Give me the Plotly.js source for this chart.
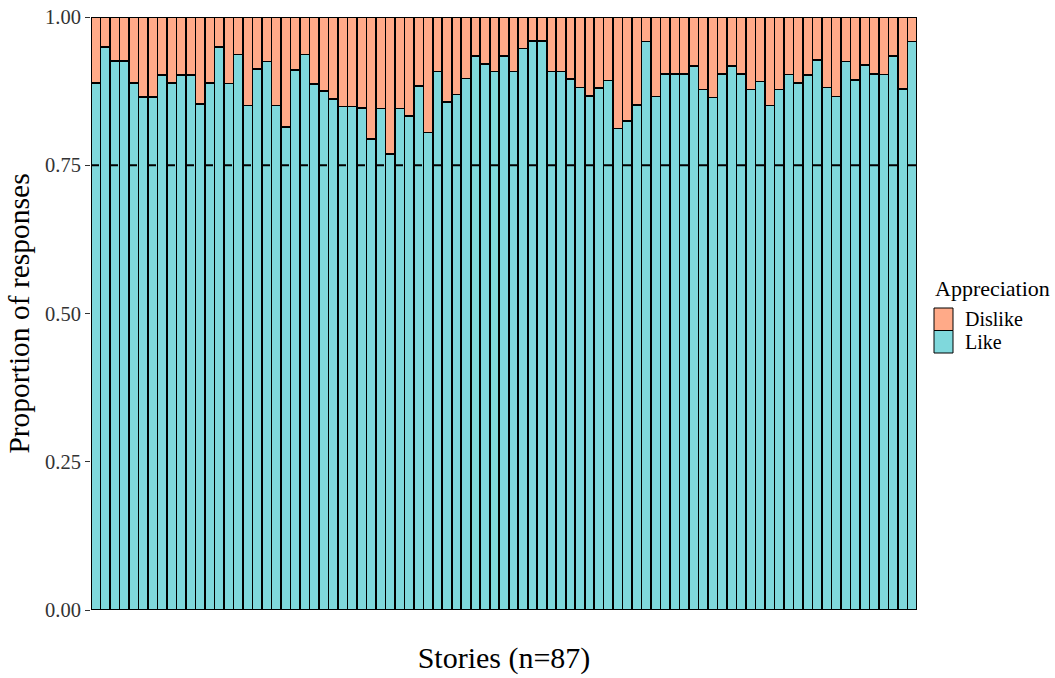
<!DOCTYPE html>
<html>
<head>
<meta charset="utf-8">
<script src="https://cdn.plot.ly/plotly-3.0.1.min.js"></script>
<style>
  html, body { margin: 0; padding: 0; background: #ffffff; }
  #chart { width: 1055px; height: 678px; }
</style>
</head>
<body>
<div id="chart"></div>
<script>
// Share of "Like" responses for each of the 87 stories
const likeShare = [
  0.889, 0.949, 0.926, 0.926, 0.889, 0.865, 0.865, 0.902, 0.889, 0.902,
  0.902, 0.853, 0.889, 0.949, 0.888, 0.937, 0.851, 0.912, 0.925, 0.851,
  0.815, 0.911, 0.937, 0.887, 0.875, 0.862, 0.849, 0.849, 0.847, 0.794,
  0.846, 0.769, 0.846, 0.833, 0.884, 0.805, 0.908, 0.857, 0.869, 0.896,
  0.934, 0.921, 0.908, 0.934, 0.908, 0.947, 0.960, 0.960, 0.908, 0.908,
  0.895, 0.881, 0.867, 0.880, 0.893, 0.812, 0.825, 0.852, 0.959, 0.866,
  0.904, 0.904, 0.904, 0.917, 0.878, 0.864, 0.904, 0.917, 0.904, 0.878,
  0.891, 0.851, 0.878, 0.903, 0.889, 0.902, 0.927, 0.881, 0.866, 0.925,
  0.894, 0.919, 0.904, 0.903, 0.934, 0.879, 0.959
];
const dislikeShare = likeShare.map(v => +(1 - v).toFixed(3));
const stories = likeShare.map((_, i) => i + 1);
const threshold = 0.75;
const yTicks = [0, 0.25, 0.5, 0.75, 1];
const yTickText = ['0.00', '0.25', '0.50', '0.75', '1.00'];
const legendTitle = 'Appreciation';
const legendNames = ['Dislike', 'Like'];
const fillColors = { Like: '#7fd8dc', Dislike: '#ffaa88' };

const serif = 'Liberation Serif, Times New Roman, serif';
const outline = { color: '#000000', width: 1.6 };

const traces = [
  {
    type: 'bar', name: 'Like', x: stories, y: likeShare,
    marker: { color: fillColors.Like, line: outline }, showlegend: false
  },
  {
    type: 'bar', name: 'Dislike', x: stories, y: dislikeShare,
    marker: { color: fillColors.Dislike, line: outline }, showlegend: false
  }
];

// Plot area spans 826 x 593 px; legend keys are placed in paper units from pixel offsets
const plotW = 826, plotH = 593, plotL = 91, plotT = 17;
const px = x => (x - plotL) / plotW;
const py = y => (plotT + plotH - y) / plotH;
const keyStep = 22.5, keyTop = 308;

const legendShapes = legendNames.map((name, i) => ({
  type: 'rect', xref: 'paper', yref: 'paper',
  x0: px(934), x1: px(953),
  y0: py(keyTop + i * keyStep), y1: py(keyTop + keyStep + i * keyStep),
  fillcolor: fillColors[name], line: { color: '#000000', width: 1 }
}));

const legendAnnotations = [
  {
    text: legendTitle, xref: 'paper', yref: 'paper', x: px(933), y: py(289),
    xanchor: 'left', yanchor: 'middle', showarrow: false,
    font: { family: serif, size: 22, color: '#000' }
  },
  ...legendNames.map((name, i) => ({
    text: name, xref: 'paper', yref: 'paper', x: px(963), y: py(keyTop + keyStep / 2 + i * keyStep),
    xanchor: 'left', yanchor: 'middle', showarrow: false,
    font: { family: serif, size: 20, color: '#000' }
  }))
];

const layout = {
  width: 1055, height: 678,
  margin: { l: 91, r: 138, t: 17, b: 68 },
  paper_bgcolor: '#ffffff', plot_bgcolor: '#ffffff',
  barmode: 'stack', bargap: 0,
  font: { family: serif, color: '#000000' },
  showlegend: false,
  xaxis: {
    range: [0.5, 87.5], showticklabels: false, ticks: '',
    showgrid: false, zeroline: false, showline: false, automargin: false,
    title: { text: 'Stories (n=87)', font: { family: serif, size: 30, color: '#000' }, standoff: 36 }
  },
  yaxis: {
    range: [0, 1], tickvals: yTicks, ticktext: yTickText,
    ticks: 'outside', ticklen: 5, tickwidth: 1, tickcolor: '#333',
    tickfont: { family: serif, size: 20.5, color: '#333' },
    showgrid: false, zeroline: false, showline: false, automargin: false,
    title: { text: 'Proportion of responses', font: { family: serif, size: 29.5, color: '#000' }, standoff: 6 }
  },
  shapes: [
    {
      type: 'line', xref: 'paper', x0: 0, x1: 1, yref: 'y', y0: threshold, y1: threshold,
      line: { color: '#000000', width: 2, dash: '8px,11px' }
    },
    ...legendShapes
  ],
  annotations: legendAnnotations
};

Plotly.newPlot('chart', traces, layout, { displayModeBar: false, staticPlot: true });
</script>
</body>
</html>
